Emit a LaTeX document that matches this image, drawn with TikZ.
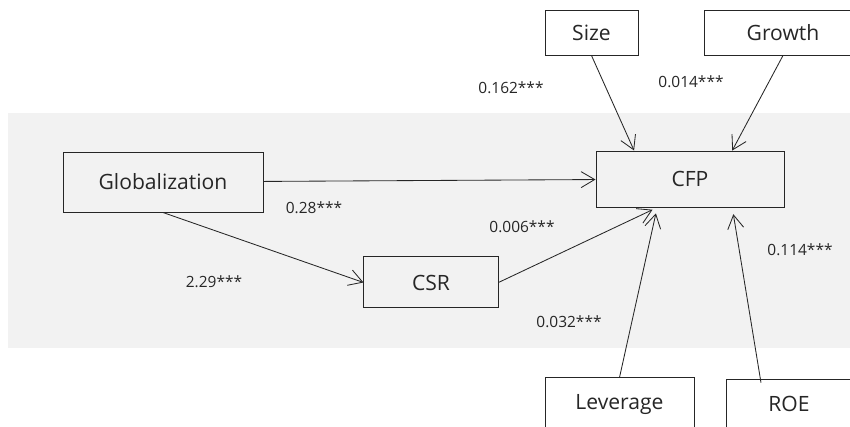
\documentclass[tikz,border=0pt]{standalone}
\usepackage{fontspec}
\setmainfont{Open Sans}
\usetikzlibrary{arrows.meta,positioning}

\definecolor{panelgray}{HTML}{F2F2F2}
\definecolor{inkgray}{HTML}{262626}

\begin{document}
\begin{tikzpicture}[>={Straight Barb[length=3.4mm,width=4mm]},
    box/.style={rectangle, draw=inkgray, line width=0.7pt, inner sep=0pt, font=\fontsize{15}{18}\selectfont, text=inkgray},
    coef/.style={font=\fontsize{11}{13}\selectfont, text=inkgray, inner sep=0pt},
    path/.style={->, draw=inkgray, line width=0.6pt}]
    \clip (0,0) rectangle (21.25,-10.65);
    \useasboundingbox (0,0) rectangle (21.25,-10.65);
    \fill[white] (0,0) rectangle (21.25,-10.65);
    \fill[panelgray] (0.2,-2.825) rectangle (21.5,-8.7);

    % Main nodes
    \node (glob) [box, fill=panelgray, minimum width=5cm, minimum height=1.5cm] at (4.075,-4.55) {Globalization};
    \node (cfp) [box, fill=panelgray, minimum width=4.7cm, minimum height=1.4cm, right=8.3cm of glob, yshift=0.075cm] {CFP};
    \node (csr) [box, fill=panelgray, minimum width=3.35cm, minimum height=1.275cm, below right=1.1cm and 2.5cm of glob] {CSR};

    % Controls
    \node (size) [box, fill=white, minimum width=2.325cm, minimum height=1.125cm, above=2.375cm of cfp, xshift=-2.4625cm] {Size};
    \node (growth) [box, fill=white, minimum width=3.95cm, minimum height=1.125cm, above=2.375cm of cfp, xshift=2.325cm] {Growth};
    \node (lev) [box, fill=white, minimum width=3.725cm, minimum height=1.35cm, below=4.25cm of cfp, xshift=-1.7625cm] {Leverage};
    \node (roe) [box, fill=white, minimum width=3.15cm, minimum height=1.2cm, below=4.3cm of cfp, xshift=2.475cm] {ROE};

    % Coefficients
    \node (c162) [coef] at (12.775,-2.2) {0.162***};
    \node (c014) [coef] at (17.275,-2.05) {0.014***};
    \node (c28) [coef] at (7.85,-5.2) {0.28***};
    \node (c229) [coef] at (5.35,-7.05) {2.29***};
    \node (c006) [coef] at (13.05,-5.675) {0.006***};
    \node (c114) [coef] at (20.0,-6.25) {0.114***};
    \node (c032) [coef] at (14.225,-8.05) {0.032***};

    % Connections
    \draw[path] (glob) -- (cfp);
    \draw[path] (glob.south) -- (csr.west);
    \draw[path, shorten >=0.13cm] (csr.east) -- (cfp.221);
    \draw[path] (size.south) -- (cfp.153);
    \draw[path] (growth.south) -- (cfp.34);
    \draw[path, shorten >=0.15cm] (lev.north) -- (cfp.221);
    \draw[path, shorten >=0.17cm] ([xshift=-0.7cm, yshift=-0.08cm]roe.north) -- (cfp.-34);
\end{tikzpicture}
\end{document}
